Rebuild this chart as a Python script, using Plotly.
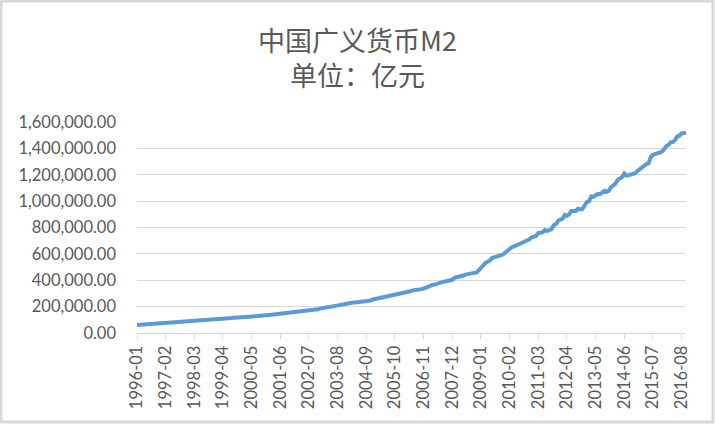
import plotly.graph_objects as go

# ---- data (亿元), monthly 1996-01 .. 2016-10 ----
years = list(range(1996, 2017))
m2_by_year = {
    1996: [61100, 62200, 63600, 64500, 65400, 67200, 67900, 69200, 70700, 71500, 72800, 76095],
    1997: [76400, 78200, 79700, 80200, 81300, 82800, 83100, 84100, 85600, 86000, 87000, 90995],
    1998: [91300, 92000, 92300, 93000, 93800, 95500, 95900, 97000, 99000, 99600, 100500, 104499],
    1999: [106200, 107800, 108400, 109000, 109600, 111600, 112400, 113600, 115900, 116400, 117600, 119898],
    2000: [121400, 122900, 123600, 124300, 125000, 126600, 127000, 128300, 130400, 130500, 131300, 134610],
    2001: [137500, 138100, 139800, 141600, 142400, 147800, 147100, 149600, 151300, 151200, 153100, 158302],
    2002: [159600, 161900, 164100, 164300, 166100, 170900, 171300, 173300, 176900, 177000, 179700, 185007],
    2003: [190500, 190100, 194500, 196100, 199800, 204900, 204800, 208700, 213600, 213500, 215800, 221223],
    2004: [225100, 227100, 231700, 232200, 233600, 238400, 236000, 238800, 243800, 243100, 246000, 254107],
    2005: [257700, 259400, 264600, 266000, 269000, 275800, 276700, 281300, 287400, 286300, 289600, 298756],
    2006: [303600, 304500, 310500, 313700, 316700, 322800, 324000, 326800, 331900, 332700, 337500, 345578],
    2007: [351500, 358700, 364100, 367300, 369700, 377800, 383900, 387200, 393100, 394100, 397000, 403442],
    2008: [417800, 421000, 423100, 429300, 436200, 443100, 446400, 448800, 452900, 453100, 458600, 475167],
    2009: [496100, 506700, 530600, 540500, 548300, 568900, 573100, 576700, 585400, 586600, 594600, 610225],
    2010: [625600, 636100, 649900, 656200, 663400, 673900, 674100, 687500, 696500, 699800, 710300, 725852],
    2011: [733900, 736100, 758100, 757400, 763400, 780800, 772900, 780900, 787400, 816800, 825500, 851591],
    2012: [855900, 867200, 895600, 889600, 900000, 924900, 925900, 924900, 943700, 936400, 940500, 974149],
    2013: [992100, 998600, 1035800, 1032600, 1042200, 1054400, 1052200, 1061300, 1077400, 1070200, 1079300, 1106525],
    2014: [1123500, 1131800, 1160700, 1168800, 1182300, 1209600, 1194100, 1197400, 1202100, 1199200, 1211100, 1228375],
    2015: [1242700, 1258300, 1275300, 1280900, 1286300, 1333400, 1350800, 1356900, 1359800, 1361000, 1373500, 1392278],
    2016: [1416300, 1424600, 1446200, 1448400, 1461700, 1490500, 1496200, 1513100, 1516400, 1519500],
}

months = []
values = []
for y in years:
    for i, v in enumerate(m2_by_year[y]):
        months.append(f"{y}-{i + 1:02d}")
        values.append(v)

tick_labels = months[::13]

title_line1 = "中国广义货币M2"
title_line2 = "单位：亿元"

# ---- layout geometry (pixels) ----
W, H = 715, 424
L, R, T, B = 137, 29, 122, 91
PW, PH = W - L - R, H - T - B


def px_x(px):
    return (px - L) / PW


def px_y(py):
    return (H - B - py) / PH


grey = "#595959"
grid = "#d9d9d9"
font_main = "Lato, 'Open Sans', sans-serif"
font_cjk = "'Noto Sans CJK SC', sans-serif"

fig = go.Figure()
fig.add_trace(go.Scatter(
    x=months, y=values, mode="lines",
    line=dict(color="#5b9bd5", width=4),
    hoverinfo="x+y",
))

fig.update_layout(
    width=W, height=H,
    margin=dict(l=L, r=R, t=T, b=B),
    paper_bgcolor="white", plot_bgcolor="white",
    showlegend=False,
    font=dict(family=font_main, size=16, color=grey),
    xaxis=dict(
        type="category",
        range=[0, len(months) - 1],
        tickmode="array", tickvals=tick_labels, ticktext=tick_labels,
        tickangle=-90,
        ticks="outside", ticklen=5, tickcolor=grid,
        showgrid=False,
        showline=True, linecolor=grid, linewidth=1,
        tickfont=dict(family=font_main, size=16.5, color=grey),
        zeroline=False,
    ),
    yaxis=dict(
        range=[0, 1600000],
        tickmode="array",
        tickvals=list(range(0, 1600001, 200000)),
        tickformat=",.2f",
        showgrid=True, gridcolor=grid, gridwidth=1,
        showline=False, zeroline=False,
        ticks="", ticklabelstandoff=20,
        tickfont=dict(family=font_main, size=16.5, color=grey),
    ),
    annotations=[
        dict(text=title_line1 + "<br>" + title_line2, xref="paper", yref="paper",
             x=px_x(357), y=px_y(57), xanchor="center", yanchor="middle",
             align="center", showarrow=False,
             font=dict(family=font_cjk, size=27, color=grey)),
    ],
    shapes=[
        dict(type="rect", xref="paper", yref="paper",
             x0=px_x(1), x1=px_x(713), y0=px_y(422), y1=px_y(1),
             line=dict(color="#d9d9d9", width=3), layer="below"),
    ],
)

fig.write_html("out.html")
